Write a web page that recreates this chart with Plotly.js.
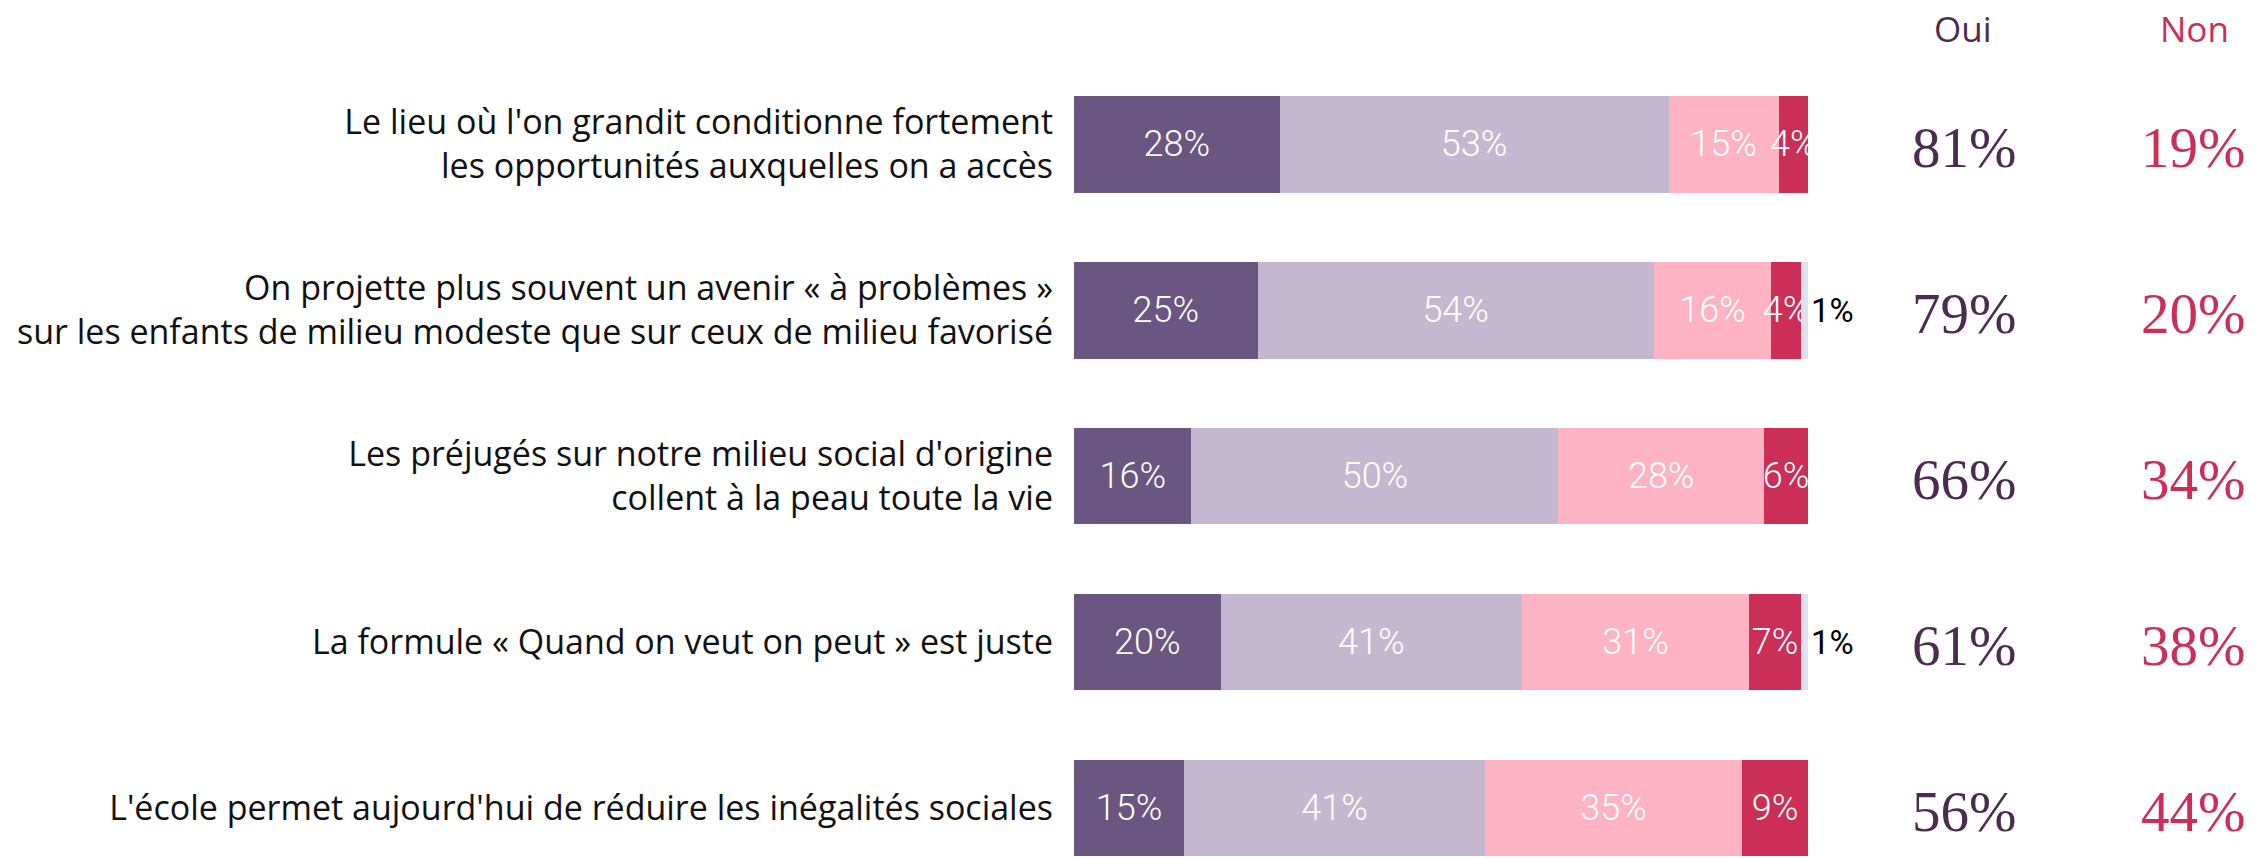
<!DOCTYPE html>
<html>
<head>
<meta charset="utf-8">
<script src="https://cdn.plot.ly/plotly-3.0.1.min.js"></script>
<style>html,body{margin:0;padding:0;background:#fff;}#chart{width:2266px;height:858px;}</style>
</head>
<body>
<div id="chart"></div>
<script>
var categories = [
  "Le lieu où l'on grandit conditionne fortement<br>les opportunités auxquelles on a accès",
  "On projette plus souvent un avenir « à problèmes »<br>sur les enfants de milieu modeste que sur ceux de milieu favorisé",
  "Les préjugés sur notre milieu social d'origine<br>collent à la peau toute la vie",
  "La formule « Quand on veut on peut » est juste",
  "L'école permet aujourd'hui de réduire les inégalités sociales"
];
var toutAFait = [28, 25, 16, 20, 15];
var plutotOui = [53, 54, 50, 41, 41];
var plutotNon = [15, 16, 28, 31, 35];
var pasDuTout = [4, 4, 6, 7, 9];
var nsp = [0, 1, 0, 1, 0];
var oui = [81, 79, 66, 61, 56];
var non = [19, 20, 34, 38, 44];

var seriesNames = ["Tout à fait d'accord", "Plutôt d'accord", "Plutôt pas d'accord", "Pas du tout d'accord", "Ne se prononce pas"];
var seriesValues = [toutAFait, plutotOui, plutotNon, pasDuTout, nsp];
var seriesColors = ["#6a5681", "#c3b8d0", "#fdb3c4", "#cb2f58", "#dfe1ee"];

var barFont = {family: "Roboto, 'Liberation Sans', sans-serif", size: 36, color: "#ffffff", weight: 300};

var traces = seriesValues.map(function (vals, i) {
  var last = (i === seriesValues.length - 1);
  return {
    type: "bar",
    orientation: "h",
    name: seriesNames[i],
    y: categories,
    x: vals,
    text: vals.map(function (v) { return v > 0 ? v + "%" : ""; }),
    textposition: last ? "outside" : "inside",
    insidetextanchor: "middle",
    textangle: 0,
    constraintext: "none",
    cliponaxis: false,
    insidetextfont: barFont,
    outsidetextfont: {family: barFont.family, size: 33, color: "#000000", weight: 400},
    marker: {color: seriesColors[i], line: {width: 0}},
    hoverinfo: "skip"
  };
});

var annotations = [];
annotations.push({xref: "paper", yref: "paper", x: 1963 / 2266, y: 1 - 28 / 858, text: "Oui", showarrow: false,
  xanchor: "center", yanchor: "middle", font: {family: "'Open Sans', sans-serif", size: 35, color: "#4b2c50"}});
annotations.push({xref: "paper", yref: "paper", x: 2194 / 2266, y: 1 - 28 / 858, text: "Non", showarrow: false,
  xanchor: "center", yanchor: "middle", font: {family: "'Open Sans', sans-serif", size: 35, color: "#cb2f58"}});
categories.forEach(function (c, i) {
  annotations.push({xref: "paper", yref: "y", x: 1964 / 2266, y: c, text: oui[i] + "%", showarrow: false,
    xanchor: "center", yanchor: "middle", yshift: -3, font: {family: "'Liberation Serif', 'DejaVu Serif', serif", size: 57, color: "#4b2c50"}});
  annotations.push({xref: "paper", yref: "y", x: 2193 / 2266, y: c, text: non[i] + "%", showarrow: false,
    xanchor: "center", yanchor: "middle", yshift: -3, font: {family: "'Liberation Serif', 'DejaVu Serif', serif", size: 57, color: "#cb2f58"}});
});

var layout = {
  width: 2266,
  height: 858,
  margin: {l: 0, r: 0, t: 0, b: 0, pad: 0},
  paper_bgcolor: "#ffffff",
  plot_bgcolor: "#ffffff",
  barmode: "stack",
  bargap: 0.42,
  showlegend: false,
  uniformtext: {mode: false},
  xaxis: {domain: [1074 / 2266, 1808 / 2266], range: [0, 100], visible: false, fixedrange: true},
  yaxis: {
    type: "category",
    range: [4.301, -0.871],
    showgrid: false, zeroline: false, showline: false, ticks: "",
    ticklabelstandoff: 20,
    tickfont: {family: "'Open Sans', sans-serif", size: 34, color: "#111111"},
    fixedrange: true
  },
  annotations: annotations
};

Plotly.newPlot("chart", traces, layout, {displayModeBar: false, staticPlot: true});
</script>
</body>
</html>
